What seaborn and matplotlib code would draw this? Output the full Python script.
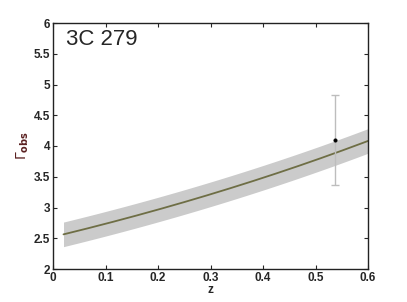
import numpy as np
import pandas as pd
import seaborn as sns
import matplotlib
matplotlib.use("Agg")
import matplotlib.pyplot as plt

# Model curve
z_model = [0.02, 0.1, 0.2, 0.3, 0.4, 0.5, 0.537, 0.6]
gamma_model = [2.56, 2.74, 2.97, 3.21, 3.47, 3.80, 3.87, 4.08]
band_half = 0.20

# Observed point
z_obs = [0.537]
gamma_obs = [4.10]
gamma_lo = [3.37]
gamma_hi = [4.83]

x_ticks = [0, 0.1, 0.2, 0.3, 0.4, 0.5, 0.6]
y_ticks = [2, 2.5, 3, 3.5, 4, 4.5, 5, 5.5, 6]
x_labels = ["0", "0.1", "0.2", "0.3", "0.4", "0.5", "0.6"]
y_labels = ["2", "2.5", "3", "3.5", "4", "4.5", "5", "5.5", "6"]

sns.set_style("ticks")
plt.rcParams['font.family'] = ['Liberation Sans', 'DejaVu Sans']

fig = plt.figure(figsize=(4.07, 3.02), dpi=100)
ax = fig.add_axes([53/407, 1 - 269/302, (368-53)/407, (269-23)/302])

zz = np.array(z_model)
gg = np.array(gamma_model)
coef = np.polyfit(zz, gg, 3)
zd = np.linspace(zz[0], zz[-1], 200)
gd = np.polyval(coef, zd)
df = pd.DataFrame({"z": zd, "g": gd})

ax.fill_between(df["z"], df["g"] - band_half, df["g"] + band_half, color="#cbcbcb", lw=0)
sns.lineplot(data=df, x="z", y="g", ax=ax, color="#6e6e45", lw=1.3)

err_lo = np.array(gamma_obs) - np.array(gamma_lo)
err_hi = np.array(gamma_hi) - np.array(gamma_obs)
ax.errorbar(z_obs, gamma_obs, yerr=[err_lo, err_hi], fmt="none", ecolor="#bdbdbd",
            elinewidth=1.0, capsize=3, capthick=1.0)
sns.scatterplot(x=z_obs, y=gamma_obs, ax=ax, color="black", s=7, edgecolor="black", zorder=5)

ax.set_xlim(0, 0.6)
ax.set_ylim(2, 6)
ax.set_xticks(x_ticks)
ax.set_xticklabels(x_labels, fontweight="bold", fontsize=8.5)
ax.set_yticks(y_ticks)
ax.set_yticklabels(y_labels, fontweight="bold", fontsize=8.5)
ax.tick_params(direction="in", length=3, width=0.8, top=True, right=True, pad=2)
ax.tick_params(axis="x", pad=2)

for s in ax.spines.values():
    s.set_linewidth(1.0)
    s.set_color("#222222")

ax.set_xlabel("z", fontweight="bold", fontsize=8.5, labelpad=0)
ax.set_ylabel(r"$\Gamma_{\mathbf{obs}}$", fontsize=10, color="#5a2020", labelpad=2)

ax.text(0.04, 0.975, "3C 279", transform=ax.transAxes, fontsize=16, va="top", ha="left")

fig.savefig("out.png", dpi=100)
